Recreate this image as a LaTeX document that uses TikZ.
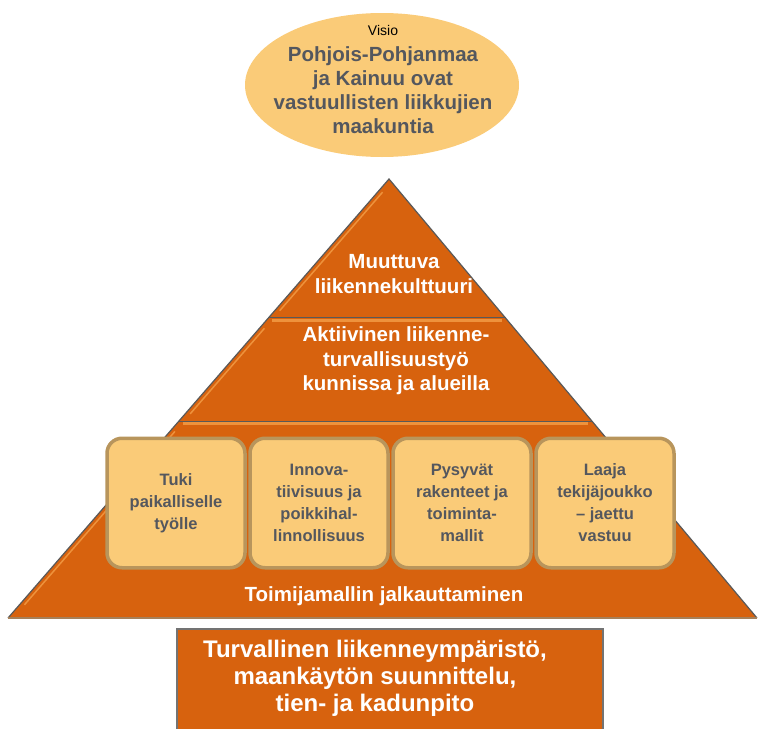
\documentclass[tikz,border=0pt]{standalone}
\usepackage{fontspec}
\setmainfont{Liberation Sans}
\usetikzlibrary{shapes.geometric,positioning,calc}

\definecolor{oranssi}{RGB}{215,98,14}
\definecolor{vaalea}{RGB}{250,203,120}
\definecolor{reuna}{RGB}{184,149,92}
\definecolor{harmaa}{RGB}{84,87,94}
\definecolor{korostus}{RGB}{238,146,60}

\tikzset{
  kerros/.style={fill=oranssi},
  reunaviiva/.style={draw=black!65, line width=1.2pt},
  valkoteksti/.style={text=white, font=\bfseries\fontsize{20.5}{24.5}\selectfont, align=center, inner sep=0pt},
  pilari/.style={draw=reuna, line width=3.5pt, fill=vaalea, rounded corners=15pt,
    minimum width=138pt, minimum height=129.5pt, text=harmaa,
    font=\bfseries\fontsize{16.5}{22}\selectfont, align=center},
}

\begin{document}
\begin{tikzpicture}[x=1pt,y=-1pt]
\useasboundingbox (0,0) rectangle (760,728);

% Visio
\node[ellipse, fill=vaalea, minimum width=274pt, minimum height=144pt, inner sep=0pt] (visio) at (382,85) {};
\node[align=center, text=harmaa, inner sep=0pt, font=\bfseries\fontsize{20.5}{24}\selectfont] (visioteksti) at (383,80)
  {{\mdseries\fontsize{14}{17}\selectfont\color{black}Visio}\\[2pt] Pohjois-Pohjanmaa\\ ja Kainuu ovat\\ vastuullisten liikkujien\\ maakuntia};

% Pyramidi
\coordinate (huippu) at (389,179);
\coordinate (vasen) at (8,618);
\coordinate (oikea) at (757,618);
\fill[kerros] (huippu) -- (vasen) -- (oikea) -- cycle;

% korostukset vasemmalla reunalla
\foreach \a/\b in {0.03/0.30, 0.34/0.535, 0.575/0.97}
  \draw[korostus, line width=1.5pt] ($(huippu)!\a!(vasen)+(5,0)$) -- ($(huippu)!\b!(vasen)+(5,0)$);

% kerrosten rajat
\foreach \t in {0.3166,0.5513} {
  \draw[korostus, line width=3pt] ($(huippu)!\t!(vasen)+(4,2.5)$) -- ($(huippu)!\t!(oikea)+(-4,2.5)$);
  \draw[black!65, line width=1pt] ($(huippu)!\t!(vasen)$) -- ($(huippu)!\t!(oikea)$);
}

\draw[reunaviiva] (vasen) -- (huippu) -- (oikea);
\draw[draw=brown!60!gray, line width=2pt] (vasen) -- (oikea);

% Tekstit
\node[valkoteksti] (muuttuva) at (394,274) {Muuttuva\\ liikennekulttuuri};
\node[valkoteksti] (aktiivinen) at (396,361) {Aktiivinen liikenne-\\ turvallisuustyö\\ kunnissa ja alueilla};
\node[valkoteksti] (toimija) at (384,596) {Toimijamallin jalkauttaminen};

% Pilarit
\node[pilari] (tuki) at (176,503) {Tuki\\ paikalliselle\\ työlle};
\node[pilari, right=1.5pt of tuki] (innovatiivisuus) {Innova-\\ tiivisuus ja\\ poikkihal-\\ linnollisuus};
\node[pilari, right=1.5pt of innovatiivisuus] (rakenteet) {Pysyvät\\ rakenteet ja\\ toiminta-\\ mallit};
\node[pilari, right=1.5pt of rakenteet] (tekijat) {Laaja\\ tekijäjoukko\\ – jaettu\\ vastuu};

% Perusta
\node[draw=black!55, line width=1.5pt, fill=oranssi, minimum width=426pt, minimum height=110pt] (perusta) at (390,684) {};
\node[valkoteksti, font=\bfseries\fontsize{24}{27}\selectfont] (perustateksti) at (375,678)
  {Turvallinen liikenneympäristö,\\ maankäytön suunnittelu,\\ tien- ja kadunpito};

\end{tikzpicture}
\end{document}
